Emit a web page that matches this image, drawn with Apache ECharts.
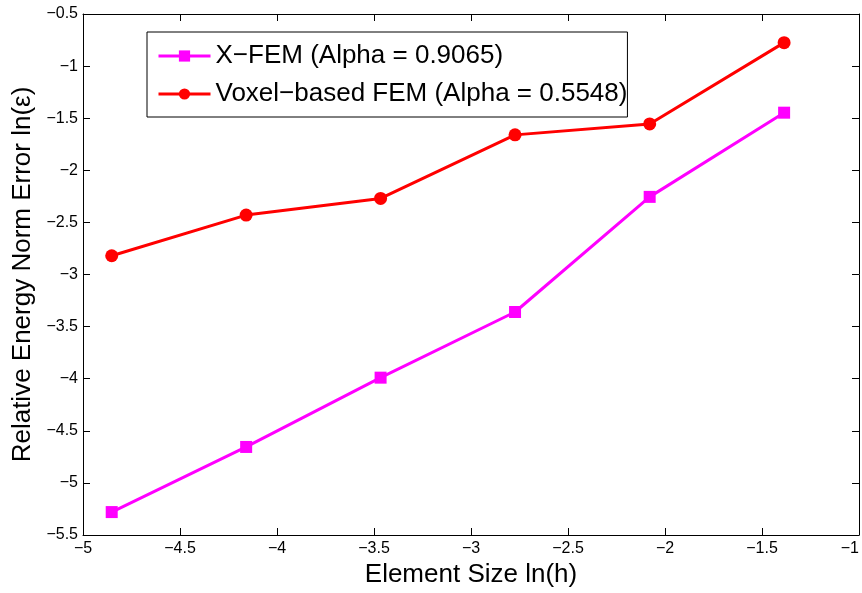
<!DOCTYPE html>
<html>
<head>
<meta charset="utf-8">
<script src="https://cdn.jsdelivr.net/npm/echarts@6/dist/echarts.min.js"></script>
<style>
html,body{margin:0;padding:0;background:#fff;}
#chart{width:862px;height:593px;}
</style>
</head>
<body>
<div id="chart"></div>
<script>
const xValues = [-4.852, -4.159, -3.466, -2.773, -2.079, -1.386];
const xfemValues = [-5.28, -4.655, -3.99, -3.36, -2.255, -1.447];
const voxelValues = [-2.82, -2.43, -2.27, -1.66, -1.555, -0.775];
const seriesNames = ['X\u2212FEM (Alpha = 0.9065)', 'Voxel\u2212based FEM (Alpha = 0.5548)'];
const xTitle = 'Element Size ln(h)';
const yTitle = 'Relative Energy Norm Error ln(\u03b5)';

const FONT = "'Liberation Sans', Arial, Helvetica, sans-serif";
const minusFmt = v => String(+v.toFixed(2)).replace('-', '\u2212');

function pairs(xs, ys){ return xs.map((x,i)=>[x, ys[i]]); }

const axisCommon = {
  type: 'value',
  axisLine: { show: true, onZero: false, lineStyle: { color: '#000', width: 1 } },
  axisTick: { show: true, inside: true, length: 7, lineStyle: { color: '#000', width: 1 } },
  splitLine: { show: false },
  minorTick: { show: false }
};

const chart = echarts.init(document.getElementById('chart'), null, { renderer: 'canvas' });
chart.setOption({
  animation: false,
  backgroundColor: '#fff',
  textStyle: { fontFamily: FONT },
  grid: { left: 83, right: 3, top: 14, bottom: 58, containLabel: false, outerBoundsMode: 'none' },
  legend: {
    orient: 'vertical',
    left: 147,
    top: 32,
    data: seriesNames,
    backgroundColor: '#fff',
    borderColor: '#000',
    borderWidth: 1,
    borderRadius: 0,
    padding: [11, 0, 10, 10],
    itemGap: 12,
    itemWidth: 52,
    itemHeight: 14,
    itemTextGap: 6,
    lineStyle: { width: 3 },
    textStyle: { fontFamily: FONT, fontSize: 26, color: '#000', lineHeight: 26 }
  },
  xAxis: [
    Object.assign({}, axisCommon, {
      position: 'bottom', min: -5, max: -1, interval: 0.5,
      axisLabel: { show: true, fontSize: 16, color: '#000', fontFamily: FONT, margin: 6, formatter: minusFmt, alignMaxLabel: 'right' },
      name: xTitle, nameLocation: 'middle', nameGap: 26,
      nameTextStyle: { fontSize: 26, color: '#000', fontFamily: FONT }
    }),
    Object.assign({}, axisCommon, {
      position: 'top', min: -5, max: -1, interval: 0.5,
      axisLabel: { show: false }
    })
  ],
  yAxis: [
    Object.assign({}, axisCommon, {
      position: 'left', min: -5.5, max: -0.5, interval: 0.5,
      axisLabel: { show: true, fontSize: 16, color: '#000', fontFamily: FONT, margin: 5, formatter: minusFmt },
      name: yTitle, nameLocation: 'middle', nameGap: 47, nameRotate: 90,
      nameTextStyle: { fontSize: 26, color: '#000', fontFamily: FONT }
    }),
    Object.assign({}, axisCommon, {
      position: 'right', min: -5.5, max: -0.5, interval: 0.5,
      axisLabel: { show: false }
    })
  ],
  series: [
    {
      name: seriesNames[0], type: 'line', xAxisIndex: 0, yAxisIndex: 0,
      data: pairs(xValues, xfemValues),
      symbol: 'rect', symbolSize: 12,
      lineStyle: { color: '#ff00ff', width: 3 },
      itemStyle: { color: '#ff00ff' },
      emphasis: { disabled: true }
    },
    {
      name: seriesNames[1], type: 'line', xAxisIndex: 0, yAxisIndex: 0,
      data: pairs(xValues, voxelValues),
      symbol: 'circle', symbolSize: 13,
      lineStyle: { color: '#ff0000', width: 3 },
      itemStyle: { color: '#ff0000' },
      emphasis: { disabled: true }
    }
  ]
});
</script>
</body>
</html>
